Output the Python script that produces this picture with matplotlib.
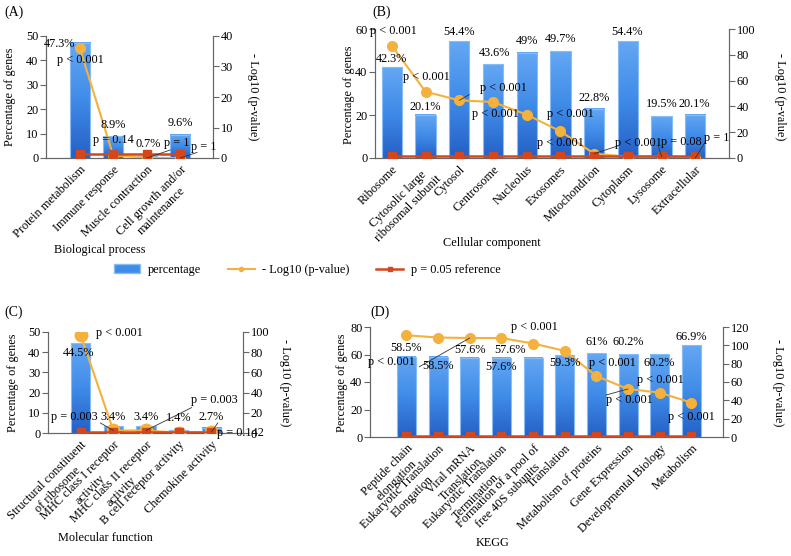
import matplotlib.pyplot as plt
import numpy as np
from matplotlib.colors import LinearSegmentedColormap
from matplotlib.patches import Patch
from matplotlib.lines import Line2D

plt.rcParams['font.family'] = ['Liberation Serif', 'DejaVu Serif']
plt.rcParams['font.size'] = 8.8

# ---- data ----
# (A) Biological process
bp_terms = ['Protein metabolism', 'Immune response', 'Muscle contraction',
            'Cell growth and/or\nmaintenance']
bp_pct = [47.3, 8.9, 0.7, 9.6]
bp_logp = [36.2, 0.85, 0.0, 0.0]
bp_ptxt = ['p < 0.001', 'p = 0.14', 'p = 1', 'p = 1']

# (B) Cellular component
cc_terms = ['Ribosome', 'Cytosolic large\nribosomal subunit', 'Cytosol', 'Centrosome',
            'Nucleolus', 'Exosomes', 'Mitochondrion', 'Cytoplasm', 'Lysosome',
            'Extracellular']
cc_pct = [42.3, 20.1, 54.4, 43.6, 49, 49.7, 22.8, 54.4, 19.5, 20.1]
cc_logp = [87.0, 51.4, 44.7, 43.4, 33.6, 20.7, 3.4, 1.0, 1.1, 0.0]
cc_ptxt = ['p < 0.001', 'p < 0.001', 'p < 0.001', 'p < 0.001', 'p < 0.001',
           'p < 0.001', 'p < 0.001', '', 'p = 0.08', 'p = 1']

# (C) Molecular function
mf_terms = ['Structural constituent\nof ribosome', 'MHC class I receptor\nactivity',
            'MHC class II receptor\nactivity', 'B cell receptor activity',
            'Chemokine activity']
mf_pct = [44.5, 3.4, 3.4, 1.4, 2.7]
mf_logp = [97.0, 2.5, 2.5, 0.3, 0.85]
mf_ptxt = ['p < 0.001', 'p = 0.003', 'p = 0.003', '', 'p = 0.142']

# (D) KEGG
kg_terms = ['Peptide chain\nelongation', 'Eukaryotic Translation\nElongation',
            'Viral mRNA\nTranslation', 'Eukaryotic Translation\nTermination',
            'Formation of a pool of\nfree 40S subunits', 'Translation',
            'Metabolism of proteins', 'Gene Expression', 'Developmental Biology',
            'Metabolism']
kg_pct = [58.5, 58.5, 57.6, 57.6, 57.6, 59.3, 61, 60.2, 60.2, 66.9]
kg_logp = [111, 108.5, 108, 108, 102, 94, 66.5, 52.4, 48.4, 37.5]
kg_ptxt = ['p < 0.001', '', '', '', 'p < 0.001', '', 'p < 0.001', 'p < 0.001',
           'p < 0.001', 'p < 0.001']

ref_logp = -np.log10(0.05)  # p = 0.05 reference

# ---- style ----
orange = '#f5b13d'
red = '#d4461b'
bar_cmap = LinearSegmentedColormap.from_list('bars', ['#2560c6', '#3f8be8', '#64a7f3'])
W, H = 791, 556

fig = plt.figure(figsize=(W / 100, H / 100), dpi=100)


def rect(x0, y0, x1, y1):
    # pixel box (from top-left) -> figure fraction
    return [x0 / W, 1 - y1 / H, (x1 - x0) / W, (y1 - y0) / H]


def panel(box, terms, pct, logp, ptxt, xlim, lmax, lstep, rmax, rstep,
          pct_pos, p_pos, leaders, msize=7):
    ax = fig.add_axes(rect(*box))
    ax2 = ax.twinx()
    x = np.arange(len(terms))
    bw = 0.6
    grad = np.linspace(0, 1, 64).reshape(-1, 1)
    for xi, h in zip(x, pct):
        ax.imshow(grad, cmap=bar_cmap, origin='lower', aspect='auto',
                  extent=(xi - bw / 2, xi + bw / 2, 0, h), zorder=2)
    ax.bar(x, pct, bw, color='none', edgecolor='#86bdf7', lw=0.8, zorder=3)
    ax2.plot(x, logp, color=orange, marker='o', ms=msize, lw=1.5, zorder=3)
    ax2.plot(x, [ref_logp] * len(x), color=red, marker='s', ms=5.5, lw=1.8, zorder=4)

    ax.set_xlim(*xlim)
    ax.set_ylim(0, lmax)
    ax2.set_ylim(0, rmax)
    ax.set_yticks(np.arange(0, lmax + 1, lstep))
    ax2.set_yticks(np.arange(0, rmax + 1, rstep))
    ax.set_xticks(x)
    ax.set_xticklabels(terms, rotation=45, ha='right', rotation_mode='anchor',
                       multialignment='center')
    ax.tick_params(axis='x', length=0, pad=4)
    for a in (ax, ax2):
        a.tick_params(axis='y', direction='out', length=4, color='#666', pad=1.5)
        a.spines['top'].set_visible(False)
        for s in ('left', 'right', 'bottom'):
            a.spines[s].set_color('#666')
            a.spines[s].set_linewidth(0.8)

    scale = lmax / rmax
    for i, v in enumerate(pct):
        ax2.text(pct_pos[i][0], pct_pos[i][1] / scale, f'{v:g}%', ha='center',
                 va='center', zorder=6)
    for i, t in enumerate(ptxt):
        if not t:
            continue
        tx, ty = p_pos[i]
        ax2.text(tx, ty / scale, t, ha='center', va='center', zorder=6)
    for i, (tx, ty) in leaders:
        ax2.annotate('', xy=(i, logp[i]), xytext=(tx, ty / scale),
                     arrowprops=dict(arrowstyle='-', lw=0.6, color='#333',
                                     shrinkA=0, shrinkB=0), zorder=5)
    return ax, ax2


# (A)
panel((46, 36, 213, 158), bp_terms, bp_pct, bp_logp, bp_ptxt, (-1.0, 3.97),
      50, 10, 40, 10,
      [(-0.6, 46.7), (1.0, 13.5), (2.03, 5.7), (3.0, 14.3)],
      [(0.03, 40.0), (1.0, 7.4), (2.9, 6.1), (3.7, 4.5)],
      [(2, (2.7, 3.3)), (3, (3.5, 2.3))])

# (B)
panel((375, 29, 729, 158), cc_terms, cc_pct, cc_logp, cc_ptxt, (-0.5, 10.0),
      60, 20, 100, 20,
      [(0, 45.9), (1.0, 23.9), (2.0, 58.4), (3.03, 48.7), (4.0, 54.6), (5.0, 55.2),
       (6.0, 28.0), (6.97, 58.4), (8.0, 25.1), (8.97, 25.1)],
      [(0.05, 59.2), (1.04, 37.8), (3.3, 32.4), (3.06, 20.3), (5.3, 20.3),
       (5.0, 6.8), (7.3, 7.1), None, (8.6, 7.6), (9.65, 9.4)],
      [(2, (2.3, 29.5)), (6, (6.7, 5.6)), (8, (7.9, 6.0)), (9, (9.3, 7.6))])

# (C)
panel((48, 332, 243, 433), mf_terms, mf_pct, mf_logp, mf_ptxt, (-1.0, 4.97),
      50, 10, 100, 20,
      [(-0.05, 39.5), (1.0, 8.1), (2.0, 8.1), (3.0, 7.4), (4.0, 8.1)],
      [(1.19, 49.4), (-0.2, 8.1), (4.1, 16.3), None, (4.9, 0.0)],
      [(1, (0.6, 5.0)), (2, (3.4, 12.6)), (4, (4.2, 5.0))], msize=9)

# (D)
panel((370, 327, 723, 437), kg_terms, kg_pct, kg_logp, kg_ptxt, (-1.15, 10.0),
      80, 20, 120, 20,
      [(0, 64.5), (1.0, 51.6), (2.0, 63.5), (3.26, 63.5), (3.0, 51.2), (5.0, 54.1),
       (6.0, 68.8), (7.0, 68.8), (8.0, 53.6), (9.0, 73.0)],
      [(-0.48, 54.3), None, None, None, (4.03, 79.8), None, (6.5, 53.6),
       (7.03, 26.9), (8.03, 41.8), (9.0, 14.8)],
      [(2, (0.4, 51.0)), (7, (6.3, 30.5))])

# axis titles
for x, y, t, r in [(10, 97, 'Percentage of genes', 90), (253, 97, '- Log10 (p-value)', 270),
                   (349, 95, 'Percentage of genes', 90), (780, 97, '- Log10 (p-value)', 270),
                   (13, 383, 'Percentage of genes', 90), (285, 383, '- Log10 (p-value)', 270),
                   (342, 383, 'Percentage of genes', 90), (778, 383, '- Log10 (p-value)', 270)]:
    fig.text(x / W, 1 - y / H, t, rotation=r, ha='center', va='center')
for x, y, t in [(100, 250, 'Biological process'), (492, 243, 'Cellular component'),
                (105, 538, 'Molecular function'), (493, 543, 'KEGG')]:
    fig.text(x / W, 1 - y / H, t, ha='center', va='center')
for x, y, t in [(4, 12, '(A)'), (372, 12, '(B)'), (4, 312, '(C)'), (370, 312, '(D)')]:
    fig.text(x / W, 1 - y / H, t, ha='left', va='center', fontsize=10)

handles = [Patch(facecolor='#3f8be8', edgecolor='#86bdf7'),
           Line2D([], [], color=orange, marker='o', ms=3, lw=1.5),
           Line2D([], [], color=red, marker='s', ms=3, lw=1.8)]
fig.legend(handles, ['percentage', '- Log10 (p-value)', 'p = 0.05 reference'],
           loc='center', bbox_to_anchor=(307 / W, 1 - 270 / H), ncol=3, frameon=False,
           handlelength=2.2, columnspacing=2.2, handletextpad=0.6)

fig.savefig('out.png', dpi=100)
